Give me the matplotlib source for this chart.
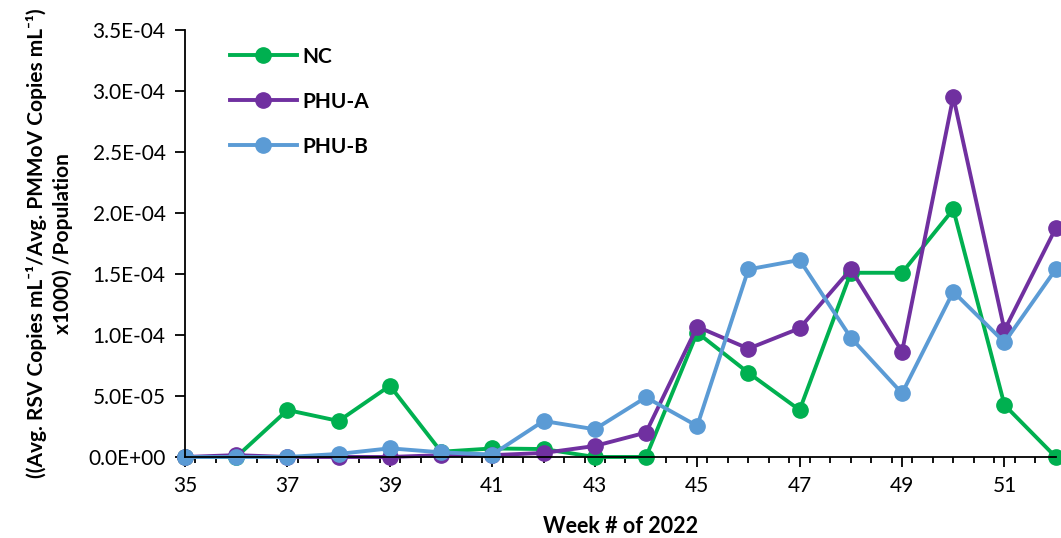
import matplotlib
matplotlib.use("Agg")
import matplotlib.pyplot as plt
from matplotlib.ticker import MultipleLocator

plt.rcParams['font.family'] = ['Lato', 'DejaVu Sans']

weeks = list(range(35, 53))
nc = [0, 0, 3.85e-5, 2.95e-5, 5.84e-5, 4.3e-6, 7e-6, 6.5e-6, 0, 0,
      1.02e-4, 6.9e-5, 3.85e-5, 1.51e-4, 1.51e-4, 2.03e-4, 4.26e-5, 0]
phu_a = [0, 1.5e-6, 0, 0, 0, 1.5e-6, 1.5e-6, 3.3e-6, 9e-6, 2.0e-5,
         1.068e-4, 8.88e-5, 1.055e-4, 1.54e-4, 8.63e-5, 2.953e-4, 1.04e-4, 1.875e-4]
phu_b = [0, 0, 0, 2.5e-6, 7.1e-6, 3.8e-6, 2e-6, 2.95e-5, 2.27e-5, 4.89e-5,
         2.54e-5, 1.538e-4, 1.615e-4, 9.78e-5, 5.22e-5, 1.355e-4, 9.4e-5, 1.538e-4]

yticks = [0, 5e-5, 1e-4, 1.5e-4, 2e-4, 2.5e-4, 3e-4, 3.5e-4]
ytick_labels = ['0.0E+00', '5.0E-05', '1.0E-04', '1.5E-04', '2.0E-04',
                '2.5E-04', '3.0E-04', '3.5E-04']
xticks = list(range(35, 53, 2))

fig = plt.figure(figsize=(10.61, 5.38), dpi=100)
ax = fig.add_axes([0.1744, 0.1506, 0.8206, 0.7936])

ax.plot(weeks, nc, color='#00B050', lw=2.8, marker='o', ms=11, label='NC', clip_on=False)
ax.plot(weeks, phu_a, color='#7030A0', lw=2.8, marker='o', ms=11, label='PHU-A', clip_on=False)
ax.plot(weeks, phu_b, color='#5B9BD5', lw=2.8, marker='o', ms=11, label='PHU-B', clip_on=False)

ax.set_xlim(35, 52)
ax.set_ylim(0, 3.5e-4)
ax.set_yticks(yticks)
ax.set_yticklabels(ytick_labels)
ax.set_xticks(xticks)
ax.set_xticklabels([str(w) for w in xticks])
ax.xaxis.set_minor_locator(MultipleLocator(0.4))

for s in ['top', 'right']:
    ax.spines[s].set_visible(False)
ax.spines['left'].set_linewidth(1.3)
ax.spines['bottom'].set_linewidth(1.3)
ax.tick_params(axis='both', which='major', direction='out', length=7, width=1.3, labelsize=15, pad=7)
ax.tick_params(axis='x', which='minor', direction='out', length=4, width=1.3)

ax.set_xlabel('Week # of 2022', fontsize=15.5, fontweight='bold', labelpad=14)
ax.set_ylabel('((Avg. RSV Copies mL\u207b\u00b9/Avg. PMMoV Copies mL\u207b\u00b9)\nx1000) /Population',
              fontsize=15, fontweight='bold', labelpad=11, linespacing=1.35)

leg = ax.legend(loc='upper left', bbox_to_anchor=(0.03, 1.005), frameon=False,
                handlelength=3.2, labelspacing=1.2, handletextpad=0.3,
                prop={'weight': 'bold', 'size': 15})

fig.savefig('out.png', dpi=100)
